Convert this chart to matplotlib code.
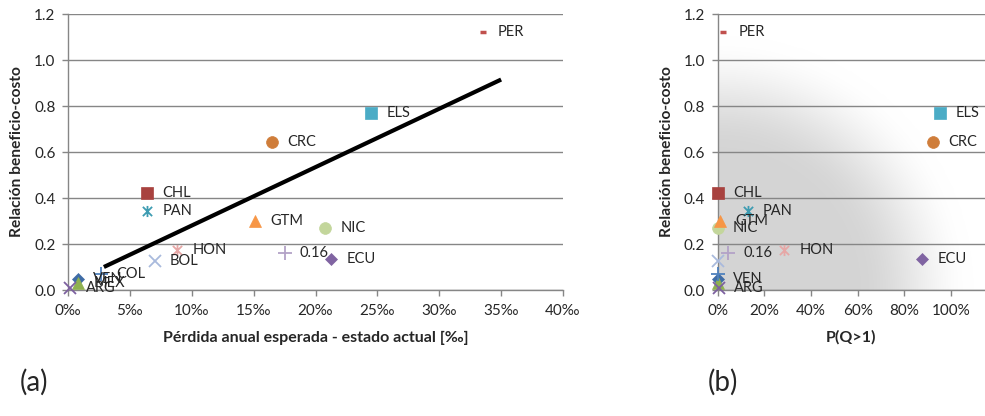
import numpy as np
import matplotlib
matplotlib.use("Agg")
import matplotlib.pyplot as plt
from matplotlib.path import Path
from matplotlib.ticker import FixedLocator, FuncFormatter

plt.rcParams['font.family'] = ['Lato', 'DejaVu Sans']

# ---- data -------------------------------------------------------------
labels = ['VEN', 'CHL', 'MEX', 'ARG', 'PAN', 'CRC', 'COL', 'PER',
          'NIC', 'GTM', 'HON', 'BOL', '', 'ECU', 'ELS']   # '' -> label shows the value
benefit_cost = [0.046, 0.423, 0.030, 0.007, 0.345, 0.643, 0.070, 1.120,
                0.271, 0.300, 0.174, 0.126, 0.16, 0.133, 0.770]
expected_loss_permil = [0.8, 6.4, 0.8, 0.2, 6.4, 16.5, 2.7, 33.5,
                        20.8, 15.1, 8.8, 7.0, 17.5, 21.25, 24.5]
prob_q_gt_1 = [0.000, 0.003, 0.000, 0.005, 0.129, 0.924, 0.000, 0.024,
               0.000, 0.010, 0.285, 0.000, 0.043, 0.877, 0.953]
label_in_b = [True, True, False, True, True, True, False, True,
              True, True, True, False, True, True, True]

trend_x = [2.9, 35.0]
trend_y = [0.100, 0.915]

y_ticks = [0.0, 0.2, 0.4, 0.6, 0.8, 1.0, 1.2]
x_ticks_a = [0, 5, 10, 15, 20, 25, 30, 35, 40]
x_ticks_b = [0.0, 0.2, 0.4, 0.6, 0.8, 1.0]

# ---- marker styles ----------------------------------------------------
star_path = Path([(-1, -1), (1, 1), (-1, 1), (1, -1), (0, -1.2), (0, 1.2)],
                 [Path.MOVETO, Path.LINETO, Path.MOVETO, Path.LINETO,
                  Path.MOVETO, Path.LINETO])

styles = [
    dict(marker='D', ms=6.0, color='#3F6CA6', filled=True),   # VEN
    dict(marker='s', ms=8.5, color='#A8423F', filled=True),   # CHL
    dict(marker='^', ms=8.5, color='#8FB150', filled=True),   # MEX
    dict(marker='x', ms=8.0, color='#7D60A0', filled=False),  # ARG
    dict(marker=star_path, ms=8.0, color='#3E9CB2', filled=False),  # PAN
    dict(marker='o', ms=8.5, color='#CF7D3A', filled=True),   # CRC
    dict(marker='+', ms=10.0, color='#4F81BD', filled=False), # COL
    dict(marker='_', ms=5.0, color='#C0504D', filled=False, mew=2.5),  # PER
    dict(marker='o', ms=8.5, color='#C3D69B', filled=True),   # NIC
    dict(marker='^', ms=9.0, color='#F79646', filled=True),   # GTM
    dict(marker=star_path, ms=8.0, color='#E6A7A6', filled=False),  # HON
    dict(marker='x', ms=8.5, color='#A9BADD', filled=False),  # BOL
    dict(marker='+', ms=10.0, color='#B3A2C7', filled=False), # value-labelled
    dict(marker='D', ms=6.0, color='#8064A2', filled=True),   # ECU
    dict(marker='s', ms=8.5, color='#4BACC6', filled=True),   # ELS
]

GRID = '#868686'
TEXT = '#262626'

fig = plt.figure(figsize=(9.85, 4.16), dpi=100)
ax_a = fig.add_axes([68 / 985, 126 / 416, 495 / 985, 276 / 416])
ax_b = fig.add_axes([717.7 / 985, 126 / 416, 267.3 / 985, 276 / 416])


def style_axes(ax):
    ax.set_ylim(0, 1.2)
    ax.yaxis.set_major_locator(FixedLocator(y_ticks))
    ax.yaxis.set_major_formatter(FuncFormatter(lambda v, p: f"{v:.1f}"))
    ax.set_axisbelow(True)
    ax.grid(axis='y', color=GRID, lw=1.0)
    for s in ('top', 'right'):
        ax.spines[s].set_visible(False)
    for s in ('left', 'bottom'):
        ax.spines[s].set_color(GRID)
        ax.spines[s].set_linewidth(1.0)
    ax.tick_params(axis='both', direction='out', length=4, width=1.0,
                   color=GRID, labelsize=11, labelcolor=TEXT)
    ax.tick_params(axis='x', pad=6)
    ax.tick_params(axis='y', pad=5)
    ax.set_ylabel('Relación beneficio-costo', fontsize=11.2, fontweight='bold',
                  color=TEXT, labelpad=7)


def draw_points(ax, xs, show):
    for x, y, lab, st, sh in zip(xs, benefit_cost, labels, styles, show):
        kw = dict(marker=st['marker'], ms=st['ms'], linestyle='none',
                  clip_on=False, zorder=3)
        if st['filled']:
            kw.update(color=st['color'], mec=st['color'], mew=0.5)
        else:
            kw.update(color=st['color'], mfc='none', mec=st['color'],
                      mew=st.get('mew', 1.3))
        ax.plot([x], [y], **kw)
        if sh:
            text = lab if lab else f"{y:.2f}"
            ax.annotate(text, (x, y), xytext=(11, 0), textcoords='offset points',
                        ha='left', va='center', fontsize=10.5, color=TEXT,
                        zorder=4, annotation_clip=False)


# ---- (a) expected annual loss vs benefit-cost ------------------------
style_axes(ax_a)
ax_a.set_xlim(0, 40)
ax_a.xaxis.set_major_locator(FixedLocator(x_ticks_a))
ax_a.xaxis.set_major_formatter(FuncFormatter(lambda v, p: f"{v:g}‰"))
ax_a.set_xlabel('Pérdida anual esperada - estado actual [‰]', fontsize=11.5,
                fontweight='bold', color=TEXT, labelpad=9)
ax_a.plot(trend_x, trend_y, color='black', lw=3.0, solid_capstyle='butt',
          zorder=2.5)
draw_points(ax_a, expected_loss_permil, [True] * len(labels))

# ---- (b) exceedance probability vs benefit-cost ----------------------
style_axes(ax_b)
xmax_b = 1.145
ax_b.set_xlim(0, xmax_b)
ax_b.xaxis.set_major_locator(FixedLocator(x_ticks_b))
ax_b.xaxis.set_major_formatter(FuncFormatter(lambda v, p: f"{v * 100:.0f}%"))
ax_b.set_xlabel('P(Q>1)', fontsize=11.5, fontweight='bold', color=TEXT,
                labelpad=9)

# soft grey halo around the origin of panel (b)
w_px, h_px = 267.3, 276.0
gx = np.linspace(0, 1, 300)
gy = np.linspace(0, 1, 300)
GX, GY = np.meshgrid(gx, gy)
r = np.hypot(GX * w_px, GY * h_px)
t = np.clip((r - 140) / (255 - 140), 0, 1)
t = t * t * (3 - 2 * t)
shade = 0.835 + (1.0 - 0.835) * t
rgba = np.zeros(GX.shape + (4,))
rgba[..., 0] = rgba[..., 1] = rgba[..., 2] = shade
rgba[..., 3] = 1.0
ax_b.imshow(rgba, origin='lower', extent=[0, xmax_b, 0, 1.2],
            aspect='auto', interpolation='bilinear', zorder=0)
draw_points(ax_b, prob_q_gt_1, label_in_b)

fig.text(34 / 985, 1 - 382 / 416, '(a)', fontsize=20, color=TEXT,
         ha='center', va='center')
fig.text(723 / 985, 1 - 382 / 416, '(b)', fontsize=20, color=TEXT,
         ha='center', va='center')

fig.savefig('out.png', dpi=100, facecolor='white')
